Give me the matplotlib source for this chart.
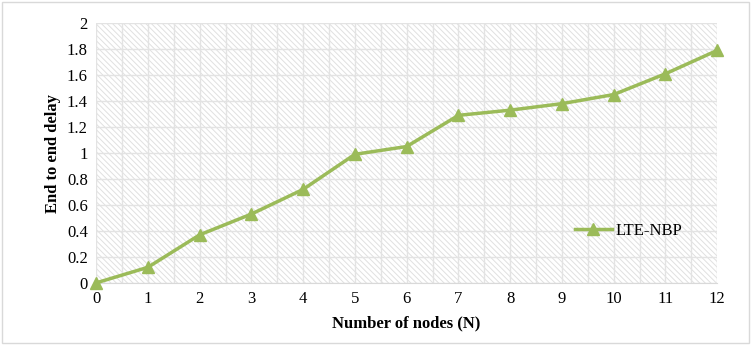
import numpy as np
import matplotlib.pyplot as plt
from matplotlib.patches import Rectangle

plt.rcParams['font.family'] = ['Liberation Serif', 'DejaVu Serif']
plt.rcParams['hatch.color'] = '#e0e0e0'
plt.rcParams['hatch.linewidth'] = 0.7

# data
nodes = [0, 1, 2, 3, 4, 5, 6, 7, 8, 9, 10, 11, 12]
delay = [0, 0.12, 0.37, 0.53, 0.72, 0.99, 1.05, 1.29, 1.33, 1.38, 1.45, 1.61, 1.79]
y_ticks = [0, 0.2, 0.4, 0.6, 0.8, 1, 1.2, 1.4, 1.6, 1.8, 2]
y_labels = ['0', '0.2', '0.4', '0.6', '0.8', '1', '1.2', '1.4', '1.6', '1.8', '2']

green = '#9bbb59'

fig = plt.figure(figsize=(7.51, 3.45), dpi=100)
ax = fig.add_axes([0.128, 0.18, 0.827, 0.753])

# hatched plot background
ax.add_patch(Rectangle((0, 0), 1, 1, transform=ax.transAxes, facecolor='white',
                       edgecolor='#e0e0e0', hatch='\\\\\\\\\\\\', linewidth=0, zorder=0))

ax.set_xlim(0, 12)
ax.set_ylim(0, 2)
ax.set_xticks(np.arange(0, 12.01, 0.5), minor=False)
ax.set_xticklabels([str(int(v)) if v == int(v) else '' for v in np.arange(0, 12.01, 0.5)])
ax.set_yticks(y_ticks)
ax.set_yticklabels(y_labels)
ax.grid(True, color='#e3e3e3', linewidth=1.0, zorder=1)
ax.set_axisbelow(True)
ax.tick_params(length=0, labelsize=12, pad=6)
for s in ['top', 'right', 'left']:
    ax.spines[s].set_visible(False)
ax.spines['bottom'].set_color('#d9d9d9')

ax.plot(nodes, delay, color=green, linewidth=2.5, marker='^', markersize=9,
        label='LTE-NBP', clip_on=False, zorder=3)

ax.set_xlabel('Number of nodes (N)', fontsize=12, fontweight='bold', labelpad=6)
ax.set_ylabel('End to end delay', fontsize=12, fontweight='bold', labelpad=4)

ax.legend(loc='center left', bbox_to_anchor=(0.747, 0.2), frameon=False, fontsize=12,
          handlelength=2.2, handletextpad=0.2)

fig.patches.append(Rectangle((0.003, 0.006), 0.994, 0.988, transform=fig.transFigure,
                             fill=False, edgecolor='#d9d9d9', linewidth=1))

fig.savefig('out.png', dpi=100)
